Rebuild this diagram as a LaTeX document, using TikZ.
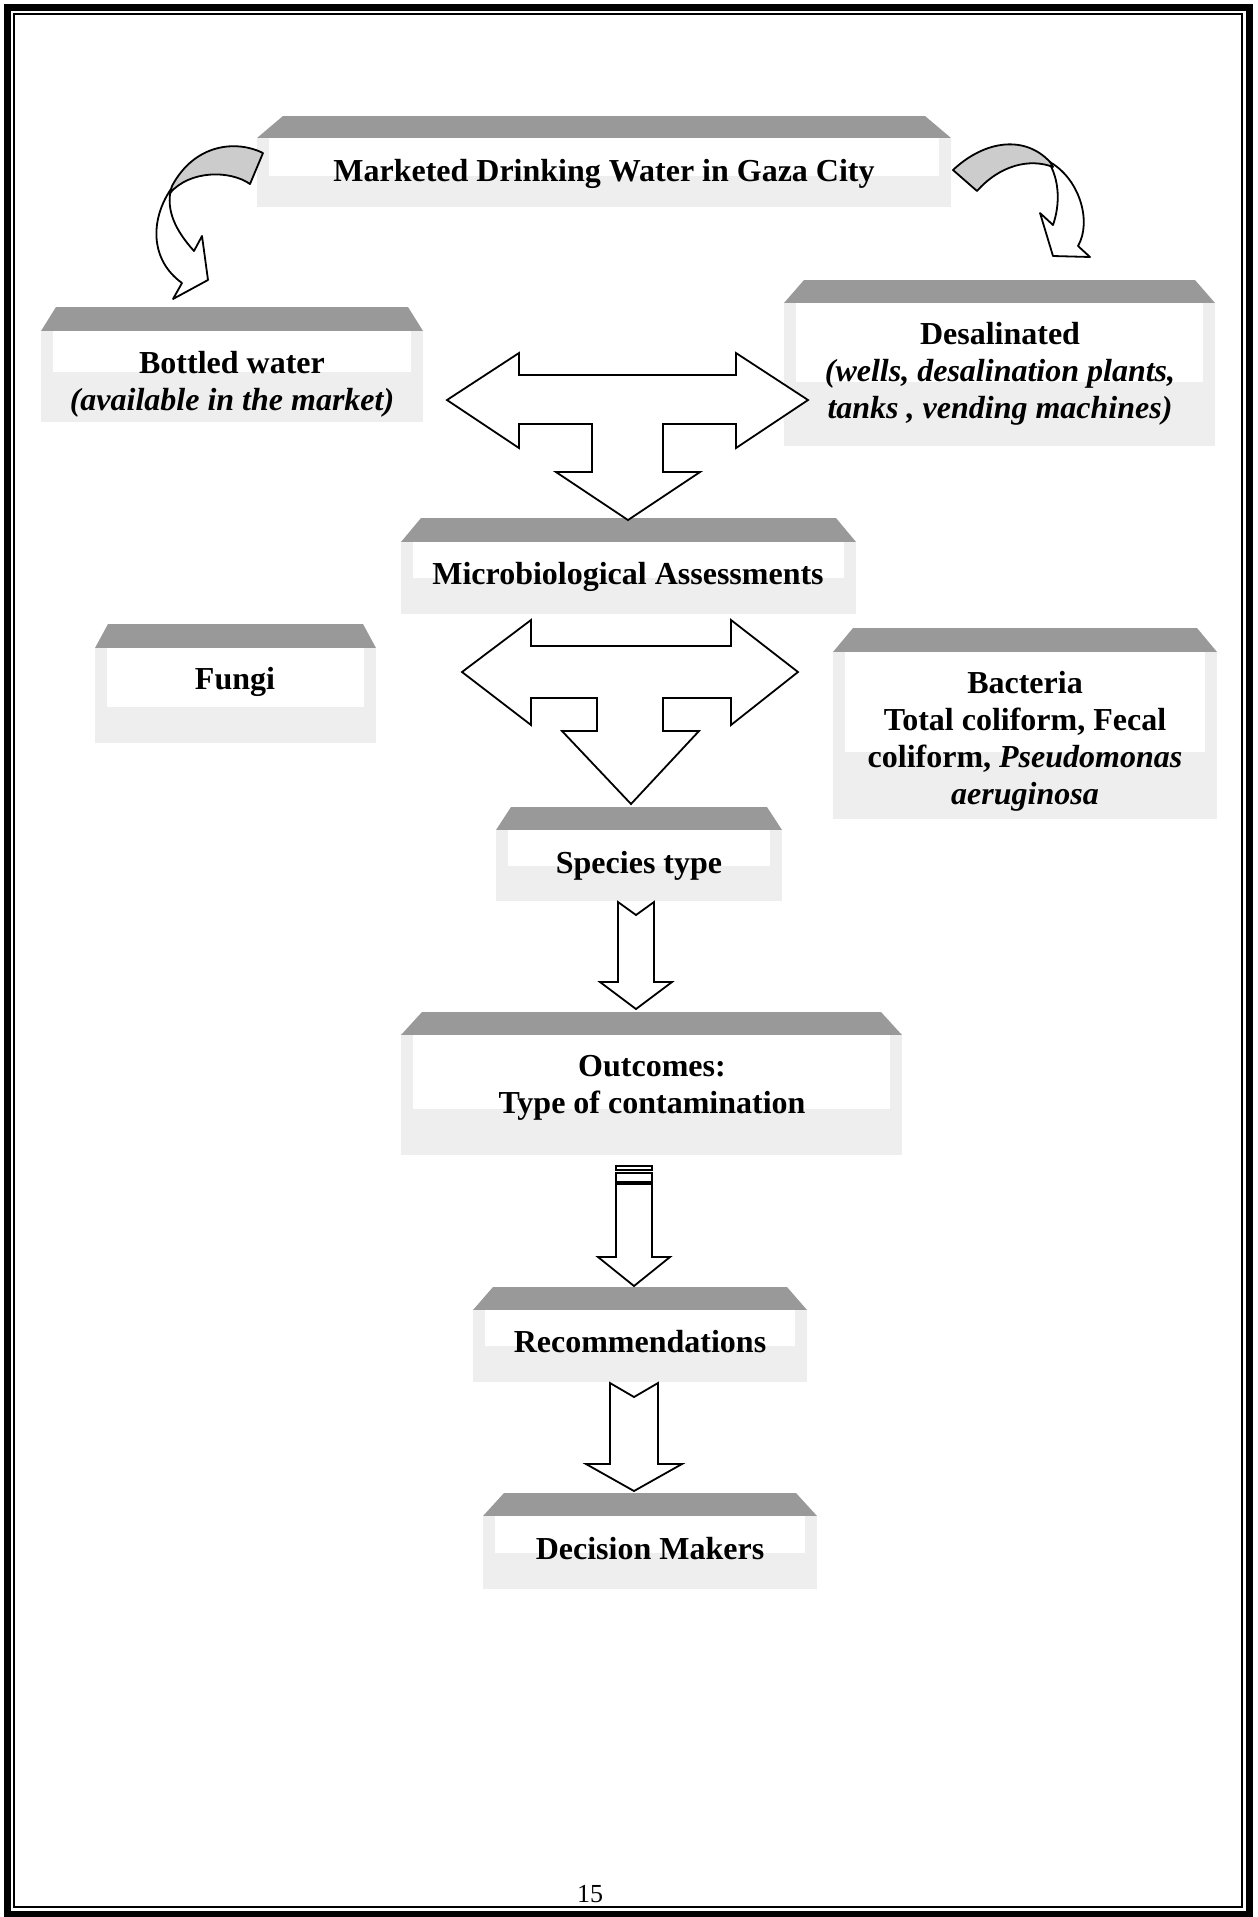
\documentclass[tikz,border=0pt]{standalone}
\usepackage{fontspec}
\setmainfont{Liberation Serif}
\definecolor{topgray}{RGB}{153,153,153}
\definecolor{ribbon}{RGB}{204,204,204}
\definecolor{stip}{RGB}{238,238,238}
% 3D box: xl xr slant ytop ymid ybot whitefrac
\newcommand\tdbox[7]{%
  \fill[topgray] ({#1+#3},#4) -- ({#2-#3},#4) -- (#2,#5) -- (#1,#5) -- cycle;
  \fill[stip] (#1,#5) rectangle (#2,#6);
  \fill[white] ({#1+12},#5) rectangle ({#2-12},{#5+#7*(#6-#5)});
}
\newcommand\fl{\rule{0pt}{26pt}}
\begin{document}
\begin{tikzpicture}[x=1pt,y=-1pt,
  txt/.style={anchor=north, inner sep=0pt, align=center,
    font=\fontsize{32}{37}\selectfont\bfseries},
  blk/.style={draw=black, fill=white, line width=1.8pt, line join=miter},
  rib/.style={draw=black, line width=1.8pt, line join=round}]
\clip (0,0) rectangle (1258,1917);
\fill[white] (0,0) rectangle (1258,1917);
% page border
\draw[line width=7pt] (7.5,7.5) rectangle (1249,1914);
\draw[line width=2.2pt] (14,14) rectangle (1242,1907);

% boxes
\tdbox{257}{951}{26}{116}{138}{207}{0.55}
\tdbox{41}{423}{15}{307}{331}{422}{0.45}
\tdbox{784}{1215}{20}{280}{303}{446}{0.55}
\tdbox{401}{856}{20}{518}{542}{614}{0.5}
\tdbox{95}{376}{13}{624}{648}{743}{0.62}
\tdbox{833}{1217}{20}{628}{652}{819}{0.6}
\tdbox{496}{782}{15}{807}{830}{901}{0.5}
\tdbox{401}{902}{21}{1012}{1035}{1155}{0.62}
\tdbox{473}{807}{20}{1287}{1310}{1382}{0.5}
\tdbox{483}{817}{21}{1493}{1516}{1589}{0.5}

% texts
\node[txt] (mkt) at (604,155) {\fl Marketed Drinking Water in Gaza City};
\node[txt] (bottled) at (232,347) {\fl Bottled water\\\textit{(available in the market)}};
\node[txt] (desal) at (1000,318) {\fl Desalinated\\\textit{(wells, desalination plants,}\\\textit{tanks , vending machines)}};
\node[txt] (micro) at (628,558) {\fl Microbiological Assessments};
\node[txt] (fungi) at (235,663) {\fl Fungi};
\node[txt] (bact) at (1025,667) {\fl Bacteria\\Total coliform, Fecal\\coliform, \textit{Pseudomonas}\\\textit{aeruginosa}};
\node[txt] (species) at (639,847) {\fl Species type};
\node[txt] (outc) at (652,1050) {\fl Outcomes:\\Type of contamination};
\node[txt] (recom) at (640,1326) {\fl Recommendations};
\node[txt] (decis) at (650,1533) {\fl Decision Makers};
\node[anchor=north, inner sep=0pt, font=\fontsize{26}{30}\selectfont] (pagenum) at (590,1885) {15};

% T-arrow 1
\draw[blk] (447,400) -- (519,353) -- (519,375) -- (736,375) -- (736,353) -- (808,400)
  -- (736,448) -- (736,424) -- (663,424) -- (663,472) -- (700,472) -- (628,520)
  -- (556,472) -- (592,472) -- (592,424) -- (519,424) -- (519,448) -- cycle;
% T-arrow 2
\draw[blk] (462,672) -- (531,620) -- (531,646) -- (731,646) -- (731,620) -- (798,672)
  -- (731,725) -- (731,698) -- (663,698) -- (663,731) -- (699,731) -- (631,804)
  -- (562,731) -- (597,731) -- (597,698) -- (531,698) -- (531,725) -- cycle;
% arrow 3
\draw[blk] (618,902) -- (636,915) -- (654,902) -- (654,982) -- (672,982) -- (636,1009)
  -- (600,982) -- (618,982) -- cycle;
% arrow 4
\draw[blk, line width=1.4pt] (616,1166) rectangle (652,1170);
\draw[blk, line width=1.4pt] (616,1173) rectangle (652,1182);
\draw[blk] (616,1184) -- (652,1184) -- (652,1257) -- (670,1257) -- (634,1286)
  -- (598,1257) -- (616,1257) -- cycle;
% arrow 5
\draw[blk] (610,1383) -- (634,1397) -- (658,1383) -- (658,1464) -- (682,1464) -- (634,1491)
  -- (586,1464) -- (610,1464) -- cycle;

% left curved arrow
\draw[rib, fill=white] (171,189) .. controls (150,220) and (150,260) .. (182,283)
  -- (173,299) -- (208,280) -- (202,236) -- (194,251)
  .. controls (175,230) and (166,210) .. (171,189) -- cycle;
\draw[rib, fill=ribbon] (263,153) .. controls (237,140) and (195,143) .. (172,186)
  -- (170,193) .. controls (190,170) and (230,170) .. (250,184) -- cycle;
% right curved arrow
\draw[rib, fill=white] (1048,161) .. controls (1080,178) and (1092,222) .. (1078,246)
  -- (1090,257) -- (1053,256) -- (1040,213) -- (1053,225)
  .. controls (1060,205) and (1060,180) .. (1048,161) -- cycle;
\draw[rib, fill=ribbon] (953,170) .. controls (985,140) and (1025,135) .. (1050,162)
  -- (1053,167) .. controls (1030,158) and (1000,165) .. (977,191) -- cycle;
\end{tikzpicture}
\end{document}
